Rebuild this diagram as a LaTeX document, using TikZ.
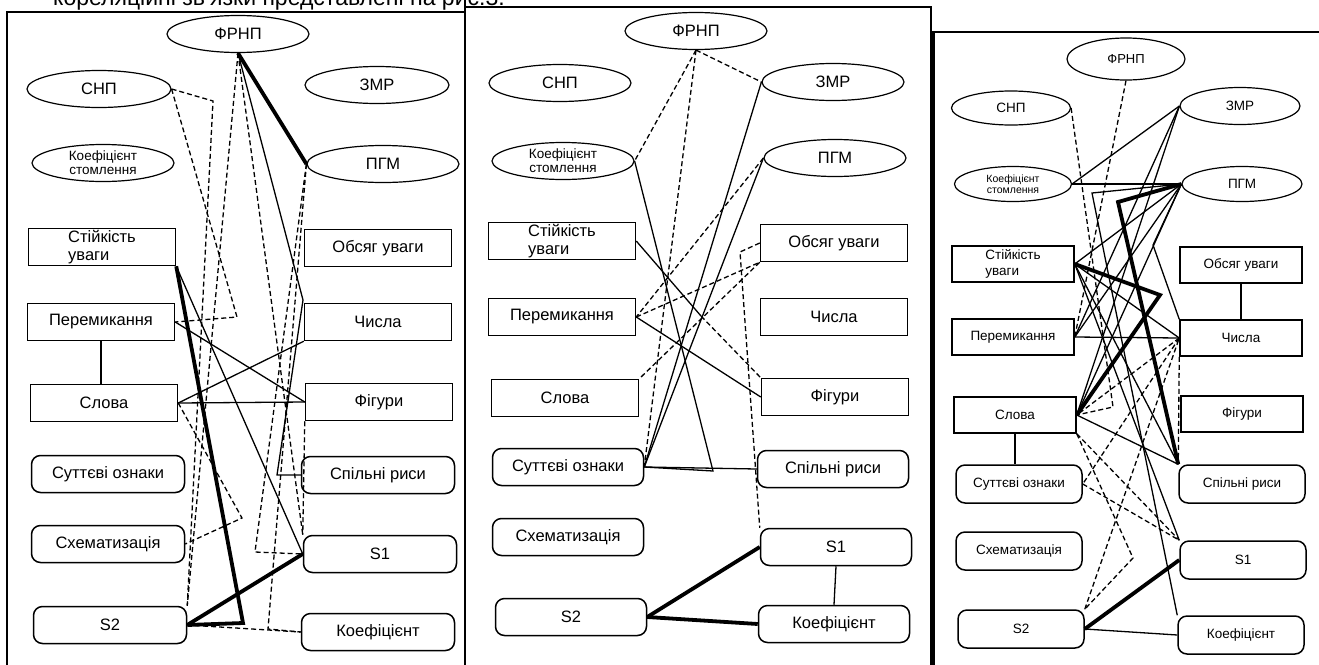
\documentclass[tikz,border=0pt]{standalone}
\usepackage{fontspec}
\setmainfont{Liberation Sans}
\usetikzlibrary{shapes.geometric,positioning}

\tikzset{
  oval/.style={draw, ellipse, line width=1.2pt, inner sep=0pt, minimum width=142pt, minimum height=37pt, font=\fontsize{16.5}{16}\selectfont},
  sqbox/.style={draw, rectangle, line width=1.5pt, inner sep=0pt, minimum width=147pt, minimum height=37pt, font=\fontsize{16.5}{18}\selectfont},
  rdbox/.style={sqbox, rounded corners=9pt},
  twoline/.style={font=\fontsize{13.5}{14}\selectfont, align=center},
  poslink/.style={line width=1.3pt},
  neglink/.style={line width=1.3pt, dash pattern=on 5pt off 3pt},
  boldlink/.style={line width=3.8pt},
  panel/.style={line width=2.2pt}
}

\begin{document}
\begin{tikzpicture}[x=1pt,y=-1pt]
\useasboundingbox (0,0) rectangle (1319,664);
% caption line, cut by the page top
\node[anchor=base west, inner sep=0pt, font=\fontsize{23}{23}\selectfont] (caption) at (53,5) {кореляційні зв'язки представлені на рис.3.};
% frames
\draw[panel] (7,670) -- (7,12) -- (465,12);
\draw[panel] (465,0) -- (465,670);
\draw[panel] (465,7) -- (931,7) -- (931,670);
\draw[panel] (1330,32) -- (932,32);
\draw[line width=3pt] (933,32) -- (933,670);

% panel 1
\node[oval] (p1frnp) at (238,34) {ФРНП};
\node[oval, minimum width=144pt] (p1snp) at (99,89) {СНП};
\node[oval, minimum width=144pt] (p1zmr) at (377,85) {ЗМР};
\node[oval, twoline] (p1kst) at (103,163) {Коефіцієнт\\стомлення};
\node[oval, minimum width=152pt] (p1pgm) at (383,164) {ПГМ};
\node[sqbox, align=left] (p1stiy) at (102,247) {Стійкість\\уваги};
\node[sqbox] (p1obs) at (378,248) {Обсяг уваги};
\node[sqbox] (p1per) at (101,322) {Перемикання};
\node[sqbox] (p1chys) at (378,322) {Числа};
\node[sqbox] (p1slova) at (104,403) {Слова};
\node[sqbox] (p1fig) at (379,402) {Фігури};
\node[rdbox, minimum width=153pt] (p1sutt) at (108,474) {Суттєві ознаки};
\node[rdbox, minimum width=153pt] (p1spil) at (378,475) {Спільні риси};
\node[rdbox, minimum width=153pt] (p1schem) at (108,544) {Схематизація};
\node[rdbox, minimum width=153pt] (p1sone) at (380,554) {S1};
\node[rdbox, minimum width=153pt] (p1stwo) at (110,625) {S2};
\node[rdbox, minimum width=153pt] (p1koef) at (378,632) {Коефіцієнт};

\draw[boldlink] (p1frnp.south) -- (p1pgm.west);
\draw[boldlink] (p1stiy.south east) -- (243,623) -- (p1stwo.east);
\draw[boldlink] (p1stwo.east) -- (p1sone.west);
\draw[poslink] (p1per.south) -- (p1per.south |- p1slova.north);
\draw[poslink] (p1stiy.south east) -- (p1sone.west);
\draw[poslink] (p1per.east) -- (p1fig.west);
\draw[poslink] (p1slova.east) -- (p1chys.south west);
\draw[poslink] (p1slova.east) -- (p1fig.west);
\draw[poslink] (p1frnp.south) -- (303,300) -- (277,475) -- (p1spil.west);
\draw[neglink] (p1snp.east) -- (237,317) -- (p1per.east);
\draw[neglink] (p1snp.east) -- (213,101) -- (p1stwo.north east);
\draw[neglink] (p1frnp.south) -- (p1stwo.north east);
\draw[neglink] (p1frnp.south) -- (p1sone.north west);
\draw[neglink] (p1stwo.east) -- (p1koef.west);
\draw[neglink] (p1slova.east) -- (242,518) -- (p1schem.east);
\draw[neglink] (p1pgm.west) -- (255,552) -- (p1sone.west);
\draw[neglink] (p1pgm.west) -- (268,629) -- (p1koef.west);
\draw[neglink] (p1fig.south west) -- (p1sone.north west);

% panel 2
\node[oval] (p2frnp) at (696,31) {ФРНП};
\node[oval] (p2snp) at (560,83) {СНП};
\node[oval] (p2zmr) at (833,82) {ЗМР};
\node[oval, twoline] (p2kst) at (563,161) {Коефіцієнт\\стомлення};
\node[oval] (p2pgm) at (835,158) {ПГМ};
\node[sqbox, align=left] (p2stiy) at (562,241) {Стійкість\\уваги};
\node[sqbox] (p2obs) at (834,243) {Обсяг уваги};
\node[sqbox] (p2per) at (562,317) {Перемикання};
\node[sqbox] (p2chys) at (834,317) {Числа};
\node[sqbox] (p2slova) at (565,398) {Слова};
\node[sqbox] (p2fig) at (835,397) {Фігури};
\node[rdbox, minimum width=151pt] (p2sutt) at (568,467) {Суттєві ознаки};
\node[rdbox, minimum width=151pt] (p2spil) at (833,469) {Спільні риси};
\node[rdbox, minimum width=151pt] (p2schem) at (568,537) {Схематизація};
\node[rdbox, minimum width=151pt] (p2sone) at (836,547) {S1};
\node[rdbox, minimum width=151pt] (p2stwo) at (571,617) {S2};
\node[rdbox, minimum width=151pt] (p2koef) at (834,624) {Коефіцієнт};

\coordinate (p2cut) at (701,316);
\draw[neglink] (p2frnp.south) -- (p2zmr.west);
\draw[neglink] (p2frnp.south) -- (p2kst.east);
\draw[neglink] (p2frnp.south) -- (p2sutt.east);
\draw[poslink] (p2kst.east) -- (713,471) -- (p2sutt.east);
\draw[poslink] (p2sutt.east) -- (p2spil.west);
\draw[poslink] (p2zmr.west) -- (p2sutt.east);
\draw[poslink] (p2pgm.west) -- (p2sutt.east);
\draw[neglink] (p2pgm.west) -- (p2per.east);
\draw[neglink] (p2per.east) -- (p2obs.south west);
\draw[neglink] (p2obs.south west) -- (p2slova.north east);
\draw[neglink] (p2obs.west) -- (740,252) -- (p2sone.north west);
\draw[poslink] (p2stiy.east) -- (p2cut);
\draw[neglink] (p2cut) -- (p2fig.north west);
\draw[poslink] (p2per.east) -- (p2fig.west);
\draw[boldlink] (p2stwo.east) -- (p2sone.west);
\draw[boldlink] (p2stwo.east) -- (p2koef.west);
\draw[poslink] (p2sone.south) -- (p2koef.north);

% panel 3
\node[oval, minimum width=118pt, minimum height=42pt, font=\fontsize{13}{13}\selectfont] (p3frnp) at (1126,59) {ФРНП};
\node[oval, minimum width=119pt, minimum height=34pt, font=\fontsize{13.5}{13}\selectfont] (p3snp) at (1011,108) {СНП};
\node[oval, minimum width=120pt, minimum height=37pt, font=\fontsize{13.5}{13}\selectfont] (p3zmr) at (1240,106) {ЗМР};
\node[oval, minimum width=117pt, minimum height=35pt, font=\fontsize{10.5}{11.5}\selectfont, align=center] (p3kst) at (1013,184) {Коефіцієнт\\стомлення};
\node[oval, minimum width=120pt, minimum height=35pt, font=\fontsize{13.5}{13}\selectfont] (p3pgm) at (1242,184) {ПГМ};
\node[sqbox, minimum width=122pt, minimum height=36pt, font=\fontsize{13.5}{16}\selectfont, align=left] (p3stiy) at (1013,264) {Стійкість\\уваги};
\node[sqbox, minimum width=122pt, minimum height=36pt, font=\fontsize{13.5}{16}\selectfont] (p3obs) at (1241,265) {Обсяг уваги};
\node[sqbox, minimum width=122pt, minimum height=36pt, font=\fontsize{13.5}{16}\selectfont] (p3per) at (1013,337) {Перемикання};
\node[sqbox, minimum width=122pt, minimum height=36pt, font=\fontsize{13.5}{16}\selectfont] (p3chys) at (1241,338) {Числа};
\node[sqbox, minimum width=122pt, minimum height=36pt, font=\fontsize{13.5}{16}\selectfont] (p3slova) at (1015,415) {Слова};
\node[sqbox, minimum width=122pt, minimum height=36pt, font=\fontsize{13.5}{16}\selectfont] (p3fig) at (1242,414) {Фігури};
\node[rdbox, minimum width=126pt, minimum height=38pt, font=\fontsize{13.5}{16}\selectfont] (p3sutt) at (1019,484) {Суттєві ознаки};
\node[rdbox, minimum width=126pt, minimum height=38pt, font=\fontsize{13.5}{16}\selectfont] (p3spil) at (1242,484) {Спільні риси};
\node[rdbox, minimum width=126pt, minimum height=38pt, font=\fontsize{13.5}{16}\selectfont] (p3schem) at (1019,551) {Схематизація};
\node[rdbox, minimum width=126pt, minimum height=38pt, font=\fontsize{13.5}{16}\selectfont] (p3sone) at (1243,560) {S1};
\node[rdbox, minimum width=126pt, minimum height=38pt, font=\fontsize{13.5}{16}\selectfont] (p3stwo) at (1021,629) {S2};
\node[rdbox, minimum width=126pt, minimum height=38pt, font=\fontsize{13.5}{16}\selectfont] (p3koef) at (1241,635) {Коефіцієнт};

\draw[poslink] (p3obs.south) -- (p3chys.north);
\draw[poslink] (p3slova.south) -- (p3slova.south |- p3sutt.north);
\draw[poslink] (p3kst.east) -- (p3pgm.west);
\draw[poslink] (p3kst.east) -- (p3zmr.west);
\draw[poslink] (p3zmr.west) -- (p3per.east);
\draw[poslink] (p3zmr.west) -- (p3slova.east);
\draw[poslink] (p3pgm.west) -- (p3stiy.east);
\draw[poslink] (p3pgm.west) -- (p3per.east);
\draw[poslink] (p3pgm.west) -- (p3slova.east);
\draw[poslink] (p3pgm.west) -- (1092,193) -- (p3koef.north west);
\draw[poslink] (p3pgm.west) -- (1153,245) -- (p3chys.north west);
\draw[poslink] (p3stiy.east) -- (p3chys.west);
\draw[poslink] (p3stiy.east) -- (p3spil.north west);
\draw[poslink] (p3stiy.east) -- (p3sone.north west);
\draw[poslink] (p3per.east) -- (p3chys.west);
\draw[poslink] (p3slova.east) -- (p3spil.north west);
\draw[poslink] (p3stwo.east) -- (p3koef.west);
\draw[boldlink] (p3stiy.east) -- (1160,295) -- (p3slova.east);
\draw[boldlink] (p3pgm.west) -- (1118,202) -- (p3spil.north west);
\draw[boldlink] (p3stwo.east) -- (p3sone.west);
\draw[neglink] (p3frnp.south) -- (p3per.east);
\draw[neglink] (p3snp.east) -- (1113,407) -- (p3slova.east);
\draw[neglink] (p3chys.west) -- (p3slova.east);
\draw[neglink] (p3chys.west) -- (p3sutt.east);
\draw[neglink] (p3chys.south west) -- (p3spil.north west);
\draw[neglink] (p3slova.south east) -- (p3sone.north west);
\draw[neglink] (p3sutt.east) -- (p3sone.north west);
\draw[neglink] (p3stwo.north east) -- (p3chys.west);
\draw[neglink] (p3slova.south east) -- (1133,558) -- (p3stwo.north east);
\end{tikzpicture}
\end{document}
